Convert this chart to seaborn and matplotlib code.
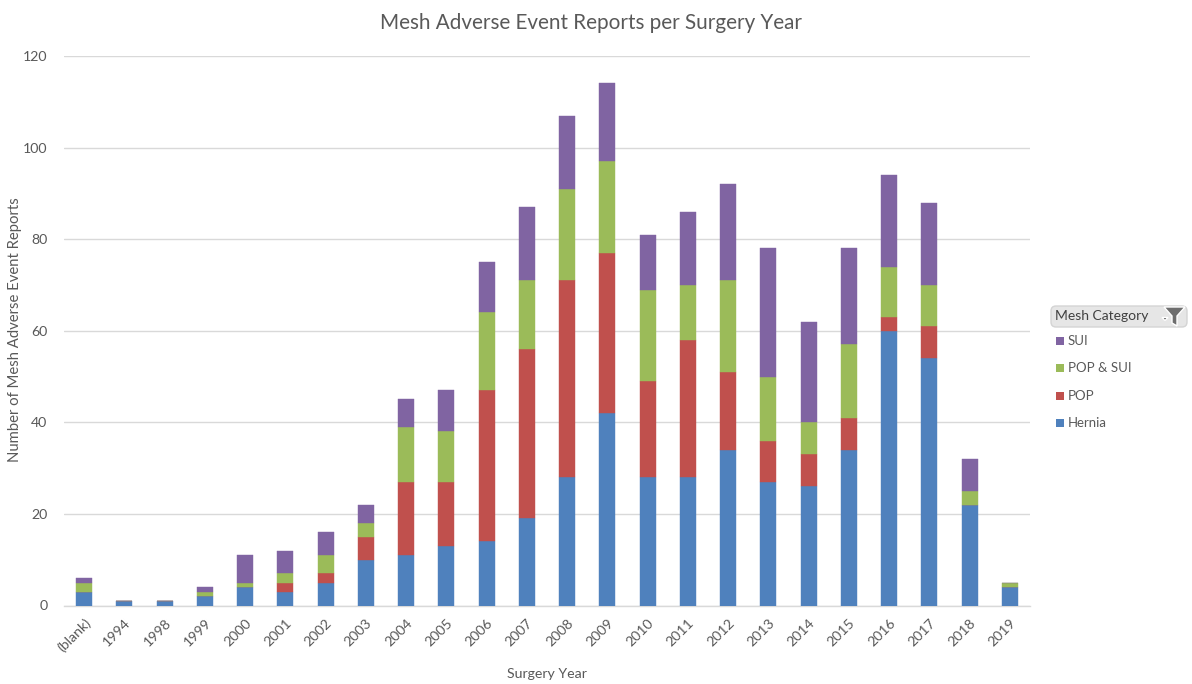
import numpy as np
import pandas as pd
import seaborn as sns
import matplotlib.pyplot as plt
from matplotlib.patches import FancyBboxPatch, Polygon, Rectangle

years = ['(blank)', '1994', '1998', '1999', '2000', '2001', '2002', '2003', '2004', '2005', '2006', '2007',
         '2008', '2009', '2010', '2011', '2012', '2013', '2014', '2015', '2016', '2017', '2018', '2019']
hernia = [3, 1, 1, 2, 4, 3, 5, 10, 11, 13, 14, 19, 28, 42, 28, 28, 34, 27, 26, 34, 60, 54, 22, 4]
pop = [0, 0, 0, 0, 0, 2, 2, 5, 16, 14, 33, 37, 43, 35, 21, 30, 17, 9, 7, 7, 3, 7, 0, 0]
pop_sui = [2, 0, 0, 1, 1, 2, 4, 3, 12, 11, 17, 15, 20, 20, 20, 12, 20, 14, 7, 16, 11, 9, 3, 1]
sui = [1, 0, 0, 1, 6, 5, 5, 4, 6, 9, 11, 16, 16, 17, 12, 16, 21, 28, 22, 21, 20, 18, 7, 0]

categories = ['Hernia', 'POP', 'POP & SUI', 'SUI']
colors = ['#4F81BD', '#C0504D', '#9BBB59', '#8064A2']

sns.set_theme(style='white')
plt.rcParams['font.family'] = ['Lato', 'DejaVu Sans']

TXT = '#595959'
W, H = 1192, 684

df = pd.DataFrame({'year': years, 'Hernia': hernia, 'POP': pop, 'POP & SUI': pop_sui, 'SUI': sui})

fig = plt.figure(figsize=(W / 100, H / 100), dpi=100)
ax = fig.add_axes([64 / W, 1 - 605.5 / H, (1030 - 64) / W, (605.5 - 56) / H])

# stacked bars, one barplot call per category
bottom = np.zeros(len(df))
for cat, c in zip(categories, colors):
    sns.barplot(data=df, x='year', y=cat, color=c, saturation=1, width=0.4, bottom=bottom,
                edgecolor=c, linewidth=0.3, ax=ax, zorder=3)
    bottom = bottom + df[cat].values

ax.set_xlim(-0.5, len(years) - 0.5)
ax.set_ylim(0, 120)
ax.set_yticks(range(0, 121, 20))
ax.yaxis.grid(True, color='#D9D9D9', linewidth=1)
ax.set_axisbelow(True)
for s in ['top', 'right', 'left']:
    ax.spines[s].set_visible(False)
ax.spines['bottom'].set_color('#D9D9D9')
ax.spines['bottom'].set_linewidth(1)
ax.tick_params(axis='both', length=0, labelsize=10.2, labelcolor=TXT)
ax.tick_params(axis='y', pad=12)
ax.tick_params(axis='x', pad=8)
plt.setp(ax.get_xticklabels(), rotation=45, ha='right', rotation_mode='anchor')

ax.set_xlabel('')
ax.set_ylabel('')
fig.text(547 / W, 1 - 674 / H, 'Surgery Year', fontsize=10.2, color=TXT, ha='center', va='center')
fig.text(15 / W, 1 - 330 / H, 'Number of Mesh Adverse Event Reports', fontsize=10.7, color=TXT,
         ha='center', va='center', rotation=90)
fig.text(591 / W, 1 - 23 / H, 'Mesh Adverse Event Reports per Surgery Year', fontsize=14.9, color=TXT,
         ha='center', va='center')

# pivot-chart style legend drawn in pixel coordinates
leg = fig.add_axes([0, 0, 1, 1], facecolor='none')
leg.set_xlim(0, W)
leg.set_ylim(H, 0)
leg.axis('off')
leg.add_patch(FancyBboxPatch((1051, 306), 136, 21, boxstyle='round,pad=0,rounding_size=5',
                             fc='#E6E6E6', ec='#D4D4D4', lw=1))
leg.text(1055, 316.5, 'Mesh Category', fontsize=10, color='#404040', va='center')
leg.add_patch(Polygon([[1164, 307], [1185, 307], [1177, 316], [1177, 326], [1172, 323], [1172, 316]], fc='#6E6E6E'))
leg.add_patch(Polygon([[1162, 317.5], [1168, 317.5], [1165, 320.5]], fc='#404040'))
for name, c, y in zip(categories[::-1], colors[::-1], [341, 368, 396, 423]):
    leg.add_patch(Rectangle((1056, y - 4), 8, 8, fc=c, ec='none'))
    leg.text(1067.5, y, name, fontsize=9.5, color=TXT, va='center')

fig.savefig('out.png', dpi=100)
